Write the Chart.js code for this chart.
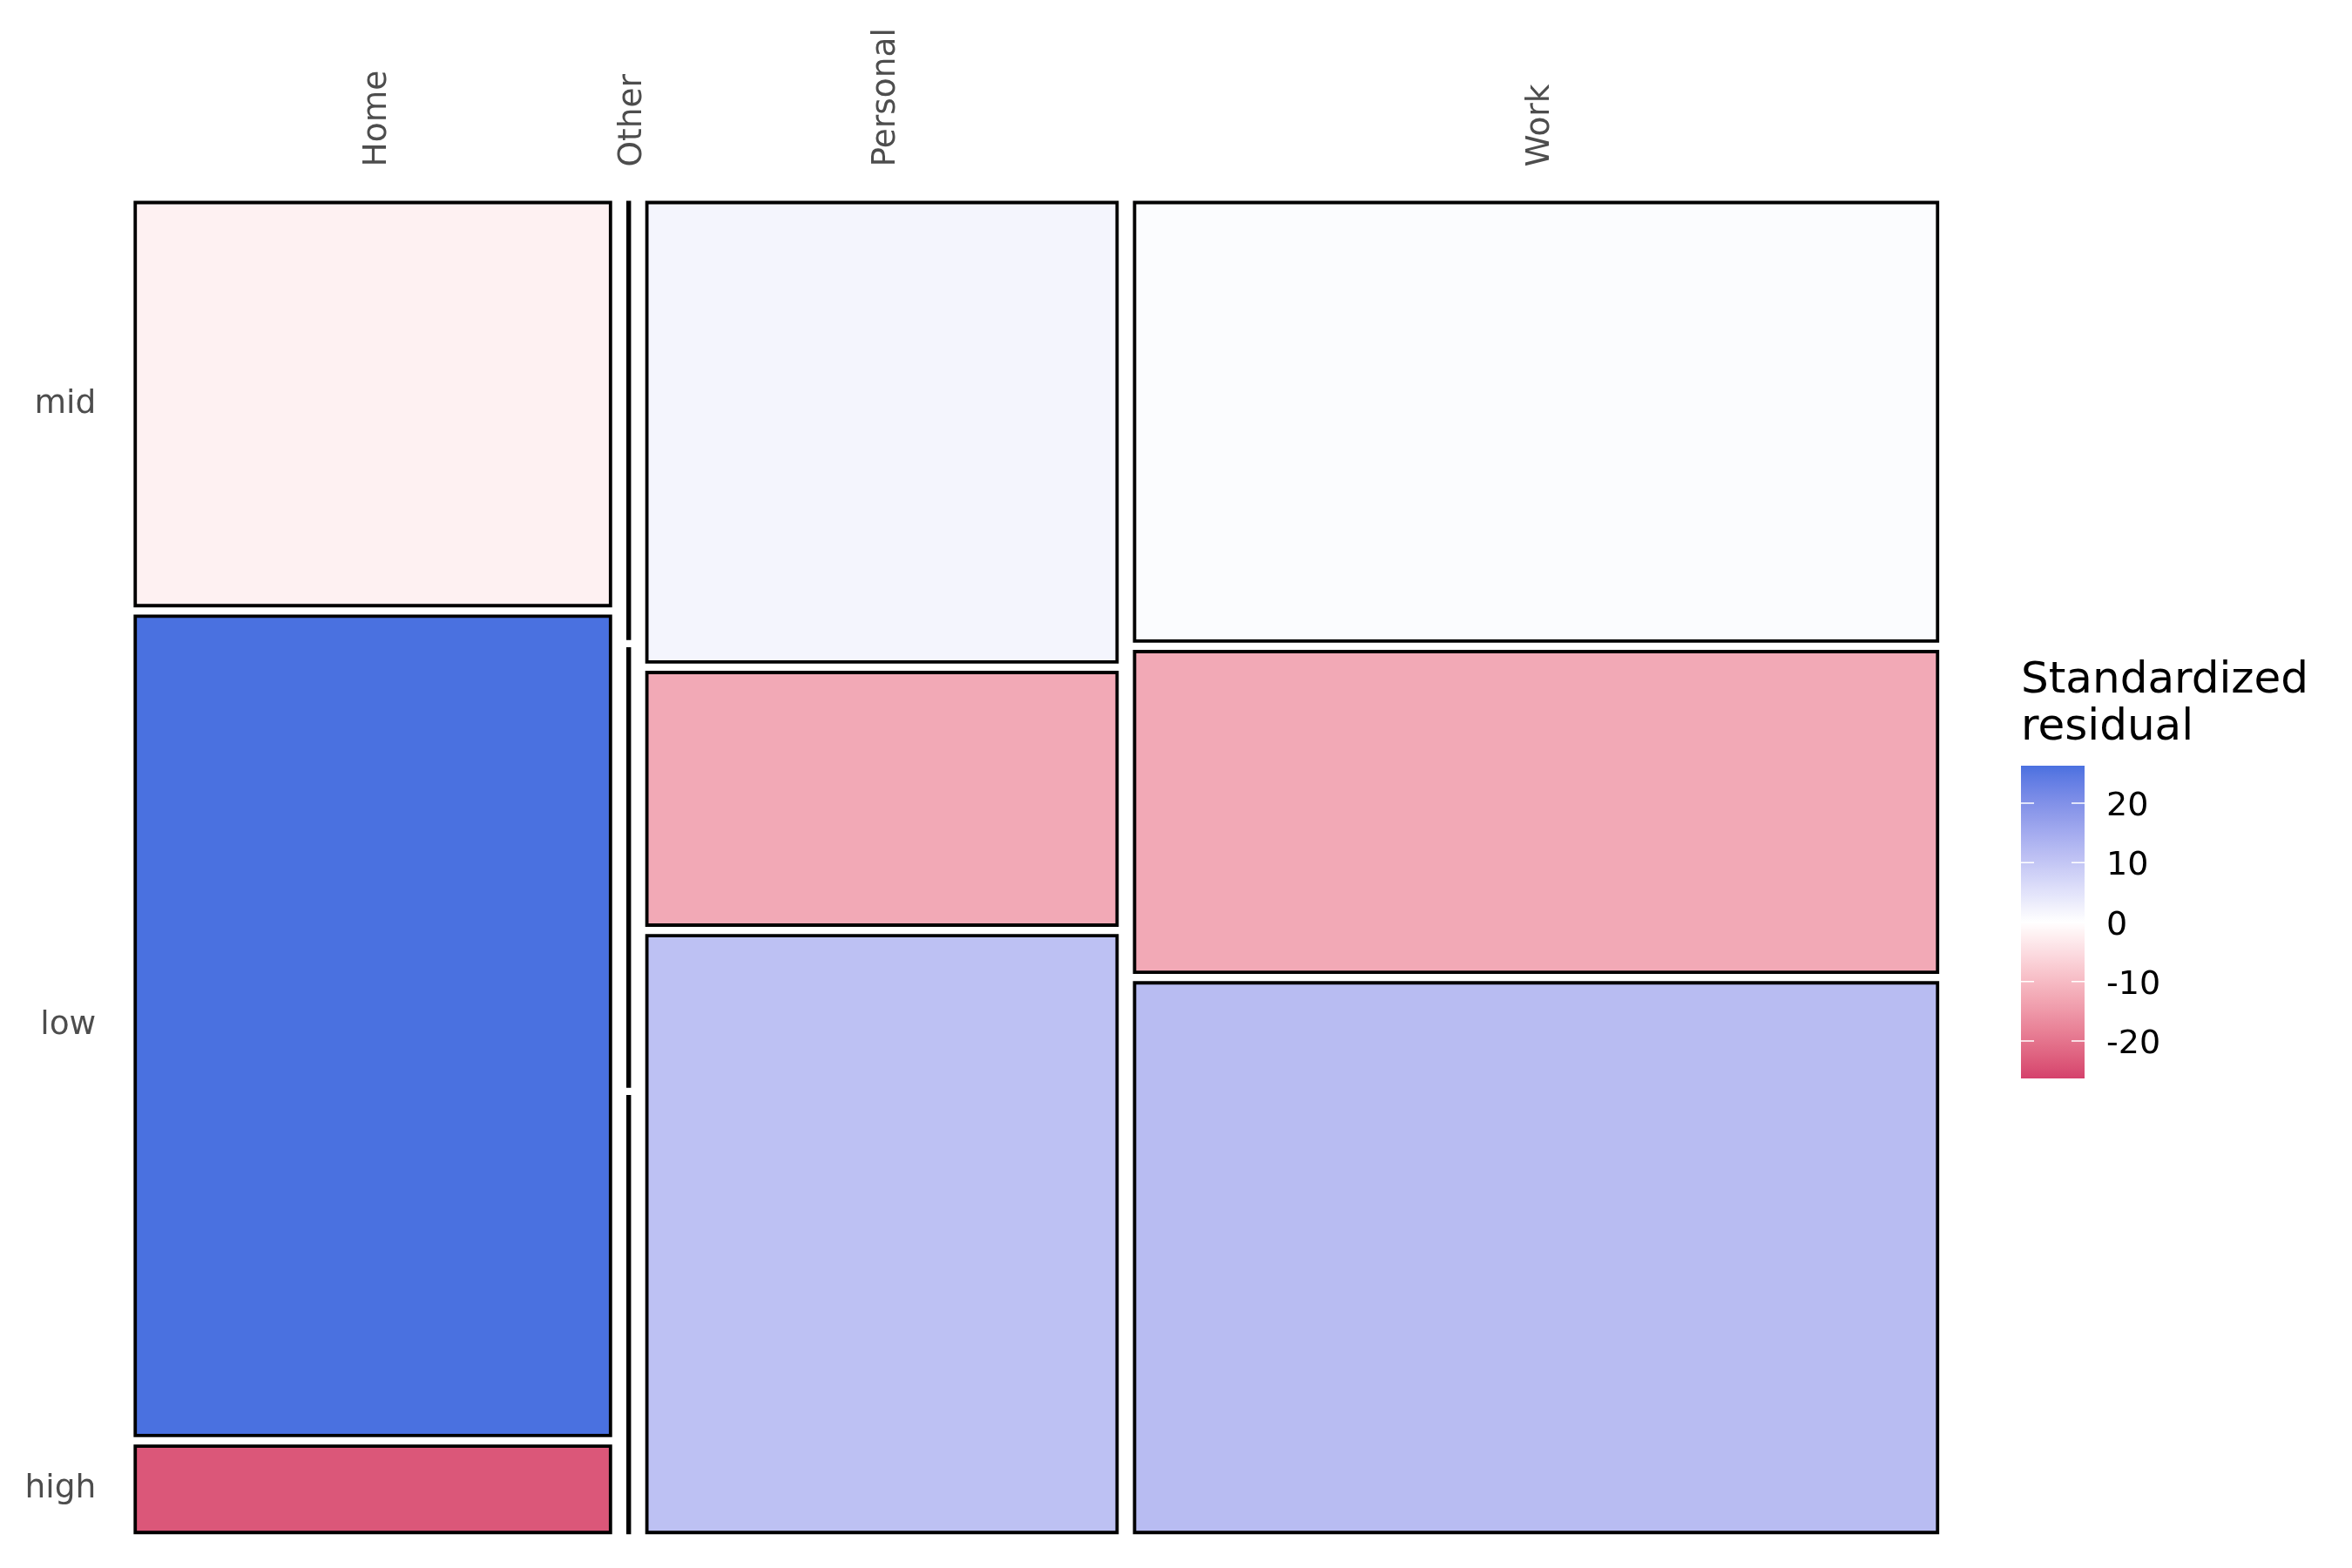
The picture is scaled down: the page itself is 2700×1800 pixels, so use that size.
<!DOCTYPE html>
<html><head><meta charset="utf-8">
<script src="https://cdn.jsdelivr.net/npm/chart.js@4.4.0/dist/chart.umd.min.js"></script>
<style>html,body{margin:0;padding:0;background:#fff;}#wrap{width:2700px;height:1800px;position:relative;}</style>
</head><body><div id="wrap"><canvas id="c" width="2700" height="1800"></canvas></div>
<script>
// ---- data ----
const columns = ['Home', 'Other', 'Personal', 'Work'];
const columnShares = [0.2716, 0.0008, 0.2687, 0.4589];
const rowLevels = ['high', 'low', 'mid']; // bottom -> top
const homeShares = [0.066, 0.626, 0.308];
const otherShares = [0.333, 0.334, 0.333];
const personalShares = [0.456, 0.193, 0.351];
const workShares = [0.420, 0.245, 0.335];
const homeResid = [-23.8, 26.3, -2.1];
const otherResid = [0.4, -0.3, 0.2];
const personalResid = [11.0, -12.6, 1.8];
const workResid = [11.8, -12.6, 0.6];
const legendTicks = [-20, -10, 0, 10, 20];
const residLimit = 26.3;
const legendTitle = ['Standardized', 'residual'];

const rowShares = [homeShares, otherShares, personalShares, workShares];
const residuals = [homeResid, otherResid, personalResid, workResid];
const xGap = 0.01, yGap = 0.0081;

// ---- colour scale (Lab interpolation low-white-high) ----
const lowColor = '#D5416C', midColor = '#FFFFFF', highColor = '#4A71E0';
function hex2rgb(h){return [1,3,5].map(i=>parseInt(h.substr(i,2),16));}
function lin(c){c/=255;return c<=0.04045?c/12.92:Math.pow((c+0.055)/1.055,2.4);}
function unlin(c){c=c<=0.0031308?12.92*c:1.055*Math.pow(c,1/2.4)-0.055;return Math.max(0,Math.min(255,Math.round(c*255)));}
function rgb2lab(rgb){const [r,g,b]=rgb.map(lin);
 let X=(0.4124*r+0.3576*g+0.1805*b)/0.95047,Y=(0.2126*r+0.7152*g+0.0722*b),Z=(0.0193*r+0.1192*g+0.9505*b)/1.08883;
 const f=t=>t>0.008856?Math.cbrt(t):7.787*t+16/116;
 return [116*f(Y)-16,500*(f(X)-f(Y)),200*(f(Y)-f(Z))];}
function lab2rgb(lab){const fy=(lab[0]+16)/116,fx=fy+lab[1]/500,fz=fy-lab[2]/200;
 const inv=t=>t*t*t>0.008856?t*t*t:(t-16/116)/7.787;
 const X=inv(fx)*0.95047,Y=inv(fy),Z=inv(fz)*1.08883;
 const r=3.2406*X-1.5372*Y-0.4986*Z,g=-0.9689*X+1.8758*Y+0.0415*Z,b=0.0557*X-0.2040*Y+1.0570*Z;
 return 'rgb('+unlin(r)+','+unlin(g)+','+unlin(b)+')';}
const LABS=[lowColor,midColor,highColor].map(h=>rgb2lab(hex2rgb(h)));
function residColor(v){
 let t=Math.max(0,Math.min(1,v/(2*residLimit)+0.5));
 const a=t<0.5?LABS[0]:LABS[1], b=t<0.5?LABS[1]:LABS[2]; const u=t<0.5?t*2:(t-0.5)*2;
 return lab2rgb([0,1,2].map(i=>a[i]+(b[i]-a[i])*u));}

// ---- build rectangles from data ----
const datasets = [];
const xCenters = [];
let homeRowCenters = [];
let xc = 0;
columns.forEach((col, i) => {
  const x0 = xc, x1 = xc + columnShares[i];
  xCenters.push((x0 + x1) / 2);
  let yc = 0;
  rowShares[i].forEach((s, j) => {
    const y0 = yc, y1 = yc + s;
    if (i === 0) homeRowCenters.push((y0 + y1) / 2);
    datasets.push({
      label: col + ' / ' + rowLevels[j],
      data: [{x:x0,y:y1},{x:x1,y:y1},{x:x1,y:y0},{x:x0,y:y0},{x:x0,y:y1}],
      showLine: true, fill: 'shape',
      backgroundColor: residColor(residuals[i][j]),
      borderColor: '#000000', borderWidth: 3.8,
      borderJoinStyle: 'miter', borderCapStyle: 'square',
      pointRadius: 0, pointHoverRadius: 0, tension: 0, clip: false
    });
    yc = y1 + yGap;
  });
  xc = x1 + xGap;
});
const xMax = 1 + xGap * (columns.length - 1);
const yMax = 1 + yGap * (rowLevels.length - 1);

const FONT = "'DejaVu Sans'";
const legendPlugin = {
  id: 'residLegend',
  afterDraw(chart) {
    const ctx = chart.ctx;
    const bx0 = 2320, bx1 = 2393, by0 = 879, by1 = 1238;
    const toY = v => by0 + (residLimit - v) / (2 * residLimit) * (by1 - by0);
    ctx.save();
    const grad = ctx.createLinearGradient(0, by1, 0, by0);
    for (let k = 0; k <= 60; k++) {
      const v = -residLimit + 2 * residLimit * k / 60;
      grad.addColorStop(k / 60, residColor(v));
    }
    ctx.fillStyle = grad;
    ctx.fillRect(bx0, by0, bx1 - bx0, by1 - by0);
    ctx.strokeStyle = '#FFFFFF'; ctx.lineWidth = 1.5;
    ctx.fillStyle = '#000000'; ctx.font = '38px ' + FONT;
    ctx.textAlign = 'left'; ctx.textBaseline = 'alphabetic';
    legendTicks.forEach(v => {
      const y = toY(v);
      ctx.beginPath();
      ctx.moveTo(bx0, y); ctx.lineTo(bx0 + 15, y);
      ctx.moveTo(bx1 - 15, y); ctx.lineTo(bx1, y);
      ctx.stroke();
      ctx.fillText(String(v), 2418, y + 14);
    });
    ctx.font = '50px ' + FONT;
    ctx.fillText(legendTitle[0], 2320, 795);
    ctx.fillText(legendTitle[1], 2320, 849);
    ctx.restore();
  }
};

new Chart(document.getElementById('c'), {
  type: 'scatter',
  data: { datasets },
  options: {
    responsive: false, animation: false, devicePixelRatio: 1,
    layout: { padding: { left: 0, top: 0, right: 475.75, bottom: 40.75 } },
    plugins: { legend: { display: false }, tooltip: { enabled: false } },
    scales: {
      x: {
        type: 'linear', position: 'top', min: 0, max: xMax, bounds: 'data',
        grid: { display: false, drawTicks: false }, border: { display: false },
        afterBuildTicks: s => { s.ticks = xCenters.map(v => ({ value: v })); },
        afterFit: s => { s.height = 232.5; s.paddingLeft = 0; s.paddingRight = 0; s.paddingTop = 0; s.paddingBottom = 0; },
        ticks: {
          autoSkip: false, minRotation: 90, maxRotation: 90, padding: 41, labelOffset: 50,
          color: '#4D4D4D', font: { family: 'DejaVu Sans', size: 37.5 },
          callback: (v, i) => columns[i]
        }
      },
      y: {
        type: 'linear', position: 'left', min: 0, max: yMax, bounds: 'data',
        grid: { display: false, drawTicks: false }, border: { display: false },
        afterBuildTicks: s => { s.ticks = homeRowCenters.map(v => ({ value: v })); },
        afterFit: s => { s.width = 155.25; s.paddingLeft = 0; s.paddingRight = 0; s.paddingTop = 0; s.paddingBottom = 0; },
        ticks: {
          autoSkip: false, padding: 45,
          color: '#4D4D4D', font: { family: 'DejaVu Sans', size: 37.5 },
          callback: (v, i) => rowLevels[i]
        }
      }
    }
  },
  plugins: [legendPlugin]
});
</script>
</body></html>
